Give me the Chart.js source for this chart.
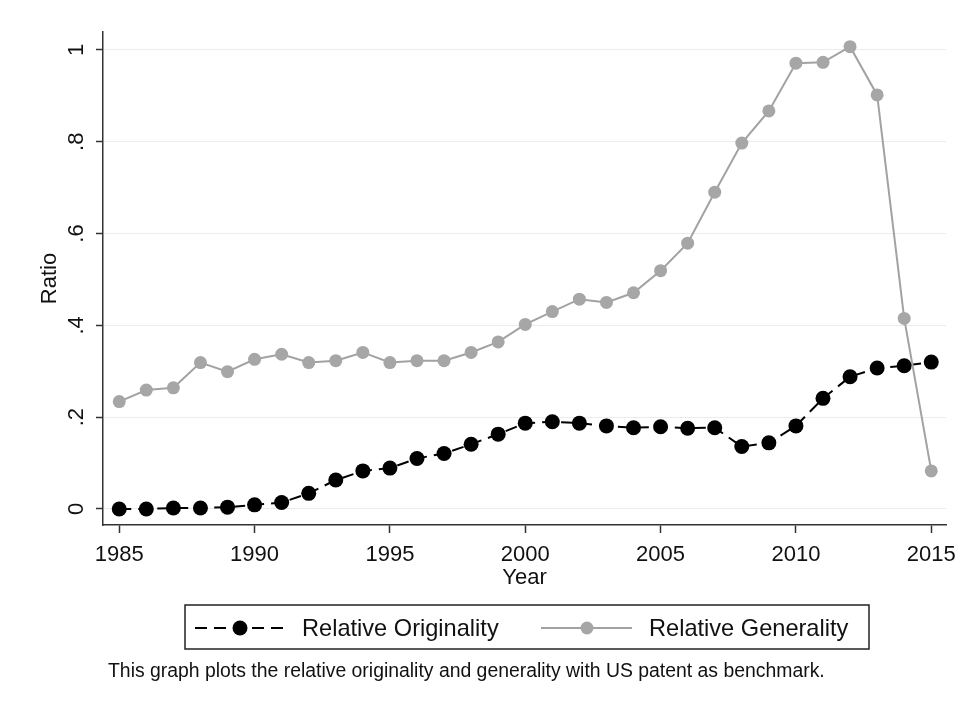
<!DOCTYPE html>
<html>
<head>
<meta charset="utf-8">
<script src="https://cdn.jsdelivr.net/npm/chart.js@4/dist/chart.umd.min.js"></script>
<style>
html,body{margin:0;padding:0;background:#fff;}
#wrap{width:965px;height:706px;position:relative;}
</style>
</head>
<body>
<div id="wrap"><canvas id="c" width="965" height="706"></canvas></div>
<script>
const years = [1985,1986,1987,1988,1989,1990,1991,1992,1993,1994,1995,1996,1997,1998,1999,2000,2001,2002,2003,2004,2005,2006,2007,2008,2009,2010,2011,2012,2013,2014,2015];
const originality = [0.000,0.000,0.002,0.002,0.004,0.009,0.014,0.034,0.063,0.083,0.089,0.110,0.121,0.141,0.163,0.187,0.190,0.187,0.181,0.177,0.179,0.176,0.177,0.136,0.144,0.181,0.241,0.288,0.307,0.312,0.320];
const generality = [0.234,0.259,0.264,0.319,0.299,0.326,0.337,0.319,0.323,0.341,0.319,0.323,0.323,0.341,0.364,0.402,0.430,0.457,0.450,0.471,0.519,0.579,0.690,0.797,0.867,0.971,0.973,1.007,0.902,0.415,0.083];
const xTickValues = [1985,1990,1995,2000,2005,2010,2015];
const yTickValues = [0,0.2,0.4,0.6,0.8,1];
const yTickLabels = ['0','.2','.4','.6','.8','1'];
const seriesNames = ['Relative Originality','Relative Generality'];
const xTitle = 'Year';
const yTitle = 'Ratio';
const caption = 'This graph plots the relative originality and generality with US patent as benchmark.';

const FONT = "'Liberation Sans', Arial, sans-serif";
const TXT = '#111111';

const legendPlugin = {
  id: 'stataLegend',
  afterDraw(chart) {
    const ctx = chart.ctx;
    const ds = chart.data.datasets;
    ctx.save();
    // legend box
    ctx.strokeStyle = '#222';
    ctx.lineWidth = 1.5;
    ctx.strokeRect(185, 605, 684, 44);
    const yc = 628;
    // item 1 : originality
    ctx.strokeStyle = ds[0].borderColor;
    ctx.lineWidth = ds[0].borderWidth;
    ctx.setLineDash(ds[0].borderDash);
    ctx.beginPath(); ctx.moveTo(195, yc); ctx.lineTo(286, yc); ctx.stroke();
    ctx.setLineDash([]);
    ctx.fillStyle = ds[0].pointBackgroundColor;
    ctx.beginPath(); ctx.arc(240, yc, ds[0].pointRadius, 0, Math.PI*2); ctx.fill();
    // item 2 : generality
    ctx.strokeStyle = ds[1].borderColor;
    ctx.lineWidth = ds[1].borderWidth;
    ctx.beginPath(); ctx.moveTo(541, yc); ctx.lineTo(632, yc); ctx.stroke();
    ctx.fillStyle = ds[1].pointBackgroundColor;
    ctx.beginPath(); ctx.arc(587, yc, ds[1].pointRadius, 0, Math.PI*2); ctx.fill();
    // texts
    ctx.fillStyle = TXT;
    ctx.font = "23.6px " + FONT;
    ctx.textBaseline = 'middle';
    ctx.textAlign = 'left';
    ctx.fillText(ds[0].label, 302, yc + 1);
    ctx.fillText(ds[1].label, 649, yc + 1);
    // caption
    ctx.font = "19.4px " + FONT;
    ctx.fillText(caption, 108, 672);
    ctx.restore();
  }
};

const bgPlugin = {
  id: 'bg',
  beforeDraw(chart) {
    const ctx = chart.ctx;
    ctx.save(); ctx.fillStyle = '#fff'; ctx.fillRect(0, 0, chart.width, chart.height); ctx.restore();
  }
};

new Chart(document.getElementById('c'), {
  type: 'line',
  data: {
    datasets: [
      {
        label: seriesNames[0],
        data: years.map((y, i) => ({x: y, y: originality[i]})),
        borderColor: '#000000',
        borderWidth: 2,
        borderDash: [12, 7],
        pointRadius: 7.5,
        pointBackgroundColor: '#000000',
        pointBorderWidth: 0,
        pointBorderColor: '#000000',
        order: 2
      },
      {
        label: seriesNames[1],
        data: years.map((y, i) => ({x: y, y: generality[i]})),
        borderColor: '#a2a2a2',
        borderWidth: 2,
        pointRadius: 6.5,
        pointBackgroundColor: '#a6a6a6',
        pointBorderWidth: 0,
        pointBorderColor: '#a6a6a6',
        order: 1
      }
    ]
  },
  options: {
    responsive: false,
    animation: false,
    devicePixelRatio: 1,
    layout: { padding: { left: 37, right: 15, top: 32, bottom: 115 } },
    plugins: { legend: { display: false }, tooltip: { enabled: false } },
    scales: {
      x: {
        type: 'linear',
        min: 1984.40,
        max: 2015.55,
        afterBuildTicks: (s) => { s.ticks = xTickValues.map(v => ({value: v})); },
        afterFit: (s) => { s.height = 66; },
        ticks: {
          autoSkip: false, maxRotation: 0, minRotation: 0, padding: 9,
          color: TXT, font: { family: FONT, size: 22 },
          callback: (v) => String(v)
        },
        grid: { drawOnChartArea: false, drawTicks: true, tickLength: 8, tickColor: '#333', tickWidth: 1.5 },
        border: { display: true, color: '#333', width: 1.5 },
        title: { display: true, text: xTitle, color: TXT, font: { family: FONT, size: 22 }, padding: 0 }
      },
      y: {
        type: 'linear',
        min: -0.0349,
        max: 1.039,
        afterBuildTicks: (s) => { s.ticks = yTickValues.map(v => ({value: v})); },
        afterFit: (s) => { s.width = 66; },
        ticks: {
          autoSkip: false, minRotation: 90, maxRotation: 90, crossAlign: 'center', padding: 10,
          color: TXT, font: { family: FONT, size: 22 },
          callback: (v) => { const i = yTickValues.findIndex(t => Math.abs(t - v) < 1e-9); return i >= 0 ? yTickLabels[i] : ''; }
        },
        grid: { color: '#ececec', lineWidth: 1, drawTicks: true, tickLength: 7, tickColor: '#333', tickWidth: 1.5 },
        border: { display: true, color: '#333', width: 1.5 },
        title: { display: true, text: yTitle, color: TXT, font: { family: FONT, size: 22 }, padding: 0 }
      }
    }
  },
  plugins: [bgPlugin, legendPlugin]
});
</script>
</body>
</html>
